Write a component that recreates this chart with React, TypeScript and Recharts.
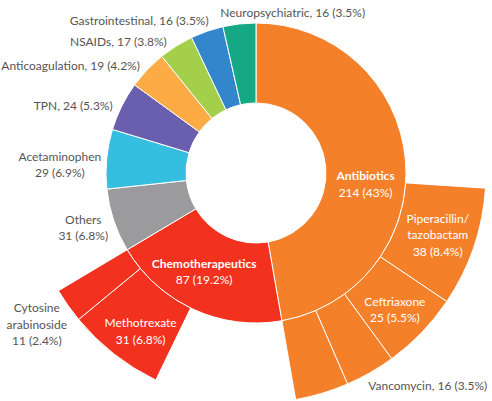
import { Cell, Pie, PieChart } from 'recharts';

// drug classes, clockwise from 12 o'clock
const groupNames = [
  'Antibiotics',
  'Chemotherapeutics',
  'Others',
  'Acetaminophen',
  'TPN',
  'Anticoagulation',
  'NSAIDs',
  'Gastrointestinal',
  'Neuropsychiatric',
];
const groupCounts = [214, 87, 31, 29, 24, 19, 17, 16, 16];
const groupShares = ['43%', '19.2%', '6.8%', '6.9%', '5.3%', '4.2%', '3.8%', '3.5%', '3.5%'];

// individual drugs shown in the outer ring
const drugParents = [
  'Antibiotics',
  'Antibiotics',
  'Antibiotics',
  'Antibiotics',
  'Chemotherapeutics',
  'Chemotherapeutics',
];
const drugNames = ['Piperacillin/tazobactam', 'Ceftriaxone', 'Vancomycin', '', 'Methotrexate', 'Cytosine arabinoside'];
const drugCounts = [38, 25, 16, 17, 31, 11];
const drugShares = ['8.4%', '5.5%', '3.5%', '', '6.8%', '2.4%'];

const groupColors: Record<string, string> = {
  Antibiotics: '#f5802a',
  Chemotherapeutics: '#f2321f',
  Others: '#9b9b9d',
  Acetaminophen: '#36bee0',
  TPN: '#6a5fae',
  Anticoagulation: '#fdab45',
  NSAIDs: '#a4cf4a',
  Gastrointestinal: '#3486cc',
  Neuropsychiatric: '#14a885',
};

type LabelLayout = {
  r: number;
  anchor: 'start' | 'middle' | 'end';
  stacked: boolean;
  inside?: boolean;
  dx?: number;
  dy?: number;
};

const labelLayout: Record<string, LabelLayout> = {
  Antibiotics: { r: 110, anchor: 'middle', stacked: true, inside: true, dy: 20 },
  Chemotherapeutics: { r: 110, anchor: 'middle', stacked: true, inside: true, dx: -6, dy: -2 },
  Others: { r: 180, anchor: 'middle', stacked: true, dx: -2, dy: -3 },
  Acetaminophen: { r: 195, anchor: 'middle', stacked: true, dx: -2, dy: 9 },
  TPN: { r: 160, anchor: 'end', stacked: false, dy: 3 },
  Anticoagulation: { r: 160, anchor: 'end', stacked: false, dy: 2 },
  NSAIDs: { r: 160, anchor: 'end', stacked: false, dx: -4, dy: 3 },
  Gastrointestinal: { r: 160, anchor: 'end', stacked: false, dx: 5, dy: -2 },
  Neuropsychiatric: { r: 160, anchor: 'start', stacked: false, dx: -18, dy: -2 },
  'Piperacillin/tazobactam': { r: 190, anchor: 'middle', stacked: true, inside: true, dx: 2 },
  Ceftriaxone: { r: 190, anchor: 'middle', stacked: true, inside: true, dx: 2, dy: 4 },
  Vancomycin: { r: 240, anchor: 'start', stacked: false, dx: -7, dy: 4 },
  Methotrexate: { r: 190, anchor: 'middle', stacked: true, inside: true, dx: 2, dy: 8 },
  'Cytosine arabinoside': { r: 262, anchor: 'middle', stacked: true, dx: -5 },
};

const CX = 256;
const CY = 173;
const RAD = Math.PI / 180;
const LINE_H = 16.5;

const innerData = groupNames.map((name, i) => ({
  name,
  value: groupCounts[i],
  share: groupShares[i],
  color: groupColors[name],
}));

// outer ring: a blank spacer fills each class up to its children, so the
// drugs line up against the end of their parent slice
const outerData = groupNames.flatMap((group, gi) => {
  const kids = drugNames
    .map((name, i) => ({ name, value: drugCounts[i], share: drugShares[i], parent: drugParents[i] }))
    .filter(d => d.parent === group);
  const used = kids.reduce((s, d) => s + d.value, 0);
  const spacer = { name: `spacer-${group}`, value: groupCounts[gi] - used, share: '', color: 'none', spacer: true };
  return [
    spacer,
    ...kids.map(d => ({ ...d, color: groupColors[group], spacer: false })),
  ];
});

function wrapName(name: string) {
  if (name.includes('/')) return name.replace('/', '/\n').split('\n');
  return name.includes(' ') ? name.split(' ') : [name];
}

function renderLabel(props: any) {
  const { midAngle, payload } = props;
  const name: string = payload.name;
  const layout = labelLayout[name];
  if (!layout || payload.spacer || !name) return null;
  const x = CX + layout.r * Math.cos(-midAngle * RAD) + (layout.dx ?? 0);
  const y = CY + layout.r * Math.sin(-midAngle * RAD) + (layout.dy ?? 0);
  const valueText = `${payload.value} (${payload.share})`;
  const lines = layout.stacked ? [...wrapName(name), valueText] : [`${name}, ${valueText}`];
  const isGroup = groupNames.includes(name);
  const y0 = y - ((lines.length - 1) * LINE_H) / 2;
  return (
    <text
      key={`lbl-${name}`}
      x={x}
      y={y0}
      textAnchor={layout.anchor}
      dominantBaseline='central'
      fill={layout.inside ? '#ffffff' : '#555555'}
      fontSize={12}
      fontFamily='Lato, sans-serif'
    >
      {lines.map((line, i) => (
        <tspan
          key={i}
          x={x}
          dy={i === 0 ? 0 : LINE_H}
          fontWeight={layout.inside && isGroup && i === 0 ? 700 : 400}
        >
          {line}
        </tspan>
      ))}
    </text>
  );
}

export default function App() {
  return (
    <div style={{ position: 'absolute', left: 0, top: 0, background: '#fff' }}>
      <PieChart width={492} height={401} margin={{ top: 0, right: 0, bottom: 0, left: 0 }}>
        <Pie
          data={innerData}
          dataKey='value'
          nameKey='name'
          cx={CX}
          cy={CY}
          innerRadius={70}
          outerRadius={150}
          startAngle={90}
          endAngle={-270}
          stroke='#ffffff'
          strokeWidth={1}
          label={renderLabel}
          labelLine={false}
          isAnimationActive={false}
        >
          {innerData.map(d => (
            <Cell key={`in-${d.name}`} fill={d.color} />
          ))}
        </Pie>
        <Pie
          data={outerData}
          dataKey='value'
          nameKey='name'
          cx={CX}
          cy={CY}
          innerRadius={150}
          outerRadius={230}
          startAngle={90}
          endAngle={-270}
          label={renderLabel}
          labelLine={false}
          isAnimationActive={false}
        >
          {outerData.map((d, i) => (
            <Cell
              key={`out-${i}`}
              fill={d.spacer ? 'none' : d.color}
              stroke={d.spacer ? 'none' : '#ffffff'}
              strokeWidth={1}
            />
          ))}
        </Pie>
      </PieChart>
    </div>
  );
}
